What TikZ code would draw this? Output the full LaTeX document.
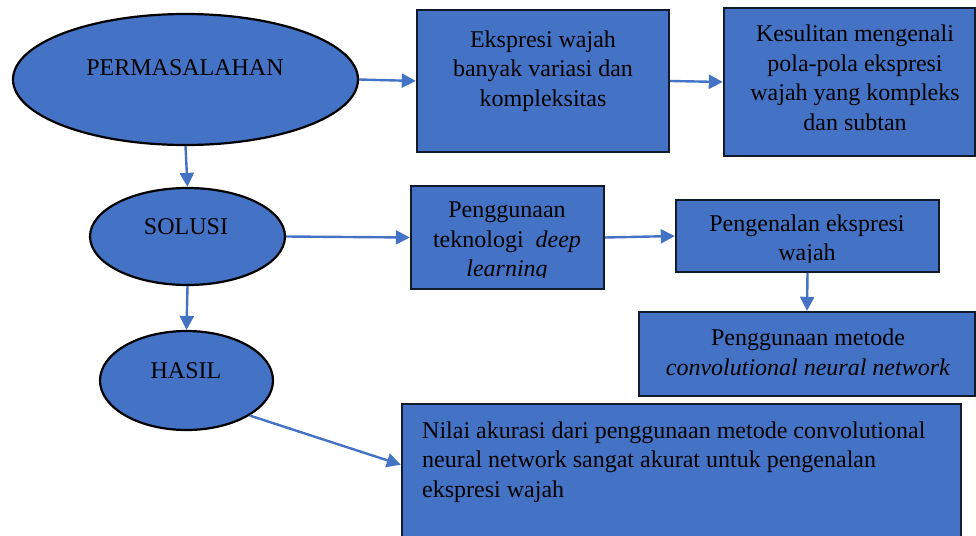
\documentclass[tikz,border=0pt]{standalone}
\usepackage{fontspec}
\setmainfont{Liberation Serif}
\usetikzlibrary{shapes.geometric,arrows.meta}
\definecolor{boxblue}{HTML}{4472C4}
\definecolor{edgedark}{RGB}{18,26,44}
\begin{document}
\begin{tikzpicture}[x=1pt,y=-1pt,
  oval/.style={draw=black,line width=2.2pt,fill=boxblue,ellipse,inner sep=0pt},
  card/.style={draw=edgedark,line width=2.4pt,fill=boxblue,rectangle,inner sep=0pt},
  txt/.style={font=\fontsize{24}{29.5}\selectfont,text=black,inner sep=0pt,align=center},
  link/.style={draw=boxblue,line width=2.4pt,-{Triangle[length=14pt,width=14pt]}}]
\useasboundingbox (0,0) rectangle (976,535);
\clip (0,0) rectangle (976,535);

% ovals: problem, solution, result
\node[oval,minimum width=345pt,minimum height=131pt] (e1) at (185.5,79.5) {};
\node[oval,minimum width=195pt,minimum height=97pt] (e2) at (187.5,236.5) {};
\node[oval,minimum width=173pt,minimum height=99pt] (e3) at (186.5,380.5) {};
\node[txt] (t1) at (185,68) {PERMASALAHAN};
\node[txt] (t2) at (186,227) {SOLUSI};
\node[txt] (t3) at (186,371) {HASIL};

% boxes
\node[card,minimum width=252pt,minimum height=142pt] (b1) at (543,81) {};
\node[card,minimum width=251pt,minimum height=148pt] (b2) at (849.5,82) {};
\node[card,minimum width=193pt,minimum height=103pt] (b3) at (507.5,237.5) {};
\node[card,minimum width=263pt,minimum height=72pt] (b4) at (807.5,236) {};
\node[card,minimum width=336pt,minimum height=84pt] (b5) at (807,354) {};
\node[card,minimum width=559pt,minimum height=141pt] (b6) at (681.5,474.5) {};

\node[txt] (l1) at (543,71) {Ekspresi wajah\\banyak variasi dan\\kompleksitas};
\node[txt] (l2) at (855,78) {Kesulitan mengenali\\pola-pola ekspresi\\wajah yang kompleks\\dan subtan};
\begin{scope}
  \clip (411,186) rectangle (604,277);
  \node[txt] (l3) at (507,242) {Penggunaan\\teknologi\ \ \textit{deep}\\\textit{learning}};
\end{scope}
\begin{scope}
  \clip (676,200) rectangle (939,262);
  \node[txt] (l4) at (807,240) {Pengenalan ekspresi\\wajah};
\end{scope}
\node[txt] (l5) at (808,352.5) {Penggunaan metode\\\textit{convolutional neural network}};
\node[txt,align=left,anchor=west] (l6) at (422,462) {Nilai akurasi dari penggunaan metode convolutional\\neural network sangat akurat untuk pengenalan\\ekspresi wajah};

% connectors
\draw[link] (e1.east) -- (b1.west);
\draw[link] (b1.east) -- (b2.west);
\draw[link] (e1.south) -- (e2.north);
\draw[link] (e2.east) -- (b3.west);
\draw[link] (b3.east) -- (b4.west);
\draw[link] (b4.south) -- (b5.north);
\draw[link] (e2.south) -- (e3.north);
\draw[link] (e3.-29) -- (b6.178.9);
\end{tikzpicture}
\end{document}
